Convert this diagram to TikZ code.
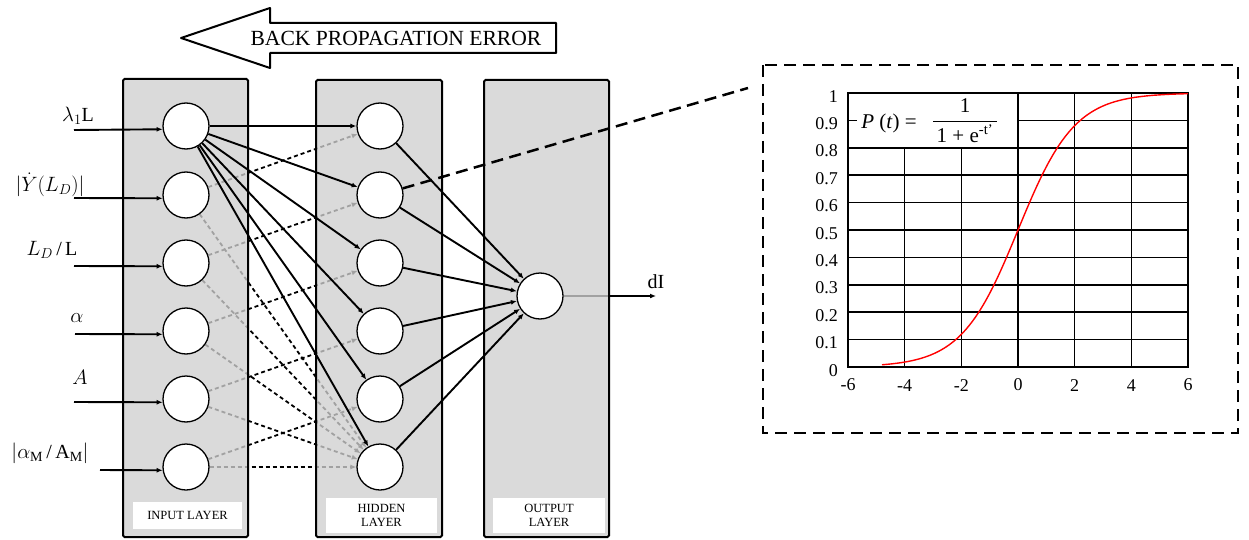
\documentclass[tikz,border=0pt]{standalone}
\usepackage{fontspec}
\usepackage{amsmath}
\setmainfont{Liberation Serif}
\usetikzlibrary{arrows.meta}
\pgfdeclarelayer{back}
\pgfdeclarelayer{mid}
\pgfsetlayers{back,mid,main}
\begin{document}
\begin{tikzpicture}[x=1pt,y=-1pt,
  neuron/.style={circle,draw,line width=1.3pt,fill=white,minimum size=46pt,inner sep=0pt},
  layerbox/.style={draw,line width=2pt,rounded corners=1.5pt,fill=black!19,fill opacity=0.78,draw opacity=1},
  tagbox/.style={fill=white,inner sep=0pt,align=center,font=\fontsize{12.5}{14}\selectfont},
  tipstyle/.style={-{Latex[length=6pt,width=5pt]}},
  solidc/.style={line width=1.9pt,tipstyle},
  dashc/.style={line width=1.8pt,dash pattern=on 4pt off 3pt,tipstyle},
  inlabel/.style={font=\fontsize{20}{24}\selectfont,inner sep=0pt},
  gridl/.style={line width=1.6pt},
  axlabel/.style={font=\fontsize{18}{22}\selectfont,inner sep=0pt},
  zoomline/.style={line width=2.5pt,dash pattern=on 12pt off 6.5pt}
]
\useasboundingbox (0,0) rectangle (1249,540);

% ---------- neurons ----------
\foreach \k/\yy in {1/126,2/195,3/263,4/331,5/399,6/467}{
  \node[neuron] (i\k) at (186,\yy) {};
  \node[neuron] (h\k) at (380,\yy) {};
}
\node[neuron] (o) at (540,296) {};

% ---------- layer boxes ----------
\begin{pgfonlayer}{mid}
  \node[layerbox,minimum width=125pt,minimum height=458pt] (inbox) at (185.5,308) {};
  \node[layerbox,minimum width=126pt,minimum height=457pt] (hidbox) at (379,308.5) {};
  \node[layerbox,minimum width=125pt,minimum height=457pt] (outbox) at (546.5,308.5) {};
  \node[tagbox,minimum width=109pt,minimum height=27pt] (tin) at (187.5,515.5) {INPUT LAYER};
  \node[tagbox,minimum width=111pt,minimum height=35pt] (thid) at (381.5,515.5) {HIDDEN\\LAYER};
  \node[tagbox,minimum width=112pt,minimum height=35pt] (tout) at (549,515.5) {OUTPUT\\LAYER};
\end{pgfonlayer}

% ---------- dashed connections (under the boxes) ----------
\coordinate (dIend) at (656,296);
\begin{pgfonlayer}{back}
  \foreach \k in {2,...,6}{
    \pgfmathtruncatemacro\m{\k-1}
    \draw[dashc] (i\k) -- (h\m);
    \draw[dashc] (i\k) -- (h6);
  }
  \draw[solidc] (o) -- (dIend);
\end{pgfonlayer}

% ---------- solid connections ----------
\foreach \k in {1,...,6}{
  \draw[solidc] (i1) -- (h\k);
  \draw[solidc] (h\k) -- (o);
}

% ---------- inputs ----------
\coordinate (s1) at (74,130);
\coordinate (s2) at (74,198);
\coordinate (s3) at (74,266);
\coordinate (s4) at (75,334);
\coordinate (s5) at (74,402);
\coordinate (s6) at (100,470);
\foreach \k in {1,...,6}{
  \draw[solidc] (s\k) -- (i\k.188);
}
\node[inlabel] (l1) at (78,116) {$\lambda_1$L};
\node[inlabel] (l2) at (50,185) {$\lvert\dot{Y}(L_D)\rvert$};
\node[inlabel] (l3) at (52,250) {$L_D$\,/\,L};
\node[inlabel] (l4) at (77,318) {$\alpha$};
\node[inlabel] (l5) at (80,377) {$A$};
\node[inlabel] (l6) at (50,453) {$\lvert\alpha_{\mathrm{M}}$\,/\,A$_{\mathrm{M}}\rvert$};

\node[inlabel] (dI) at (656,282) {dI};

% ---------- back propagation arrow ----------
\draw[line width=2pt,line join=round,fill=white]
  (556,23) -- (270,23) -- (270,8) -- (181,38) -- (270,68) -- (270,53) -- (556,53) -- cycle;
\node[font=\fontsize{21.6}{24}\selectfont,inner sep=0pt] (bp) at (396,38) {BACK PROPAGATION ERROR};

% ---------- zoom to sigmoid ----------
\coordinate (zc) at (748,88);
\draw[zoomline] (h2) -- (zc);
\draw[line width=2.5pt,dash pattern=on 12pt off 7pt] (763,65) rectangle (1238,433);

\begin{scope}[shift={(848,367)},x=28.333pt,y=274pt]
  \foreach \i in {1,...,8}{
    \draw[gridl] (0,{\i/10}) -- (12,{\i/10});
  }
  \draw[gridl] (6,0.9) -- (12,0.9);
  \draw[gridl] (0,0.9) -- (0.3,0.9);
  \foreach \t in {2,4}{
    \draw[gridl] (\t,0) -- (\t,0.8);
  }
  \foreach \t in {6,8,10}{
    \draw[gridl] (\t,0) -- (\t,1);
  }
  \draw[line width=2.6pt] (0,0) rectangle (12,1);
  \draw[red,line width=1.4pt] plot[domain=1.2:12,samples=120,smooth] (\x,{1/(1+exp(-(\x-6)))});
  \foreach \i/\lab in {0/0,1/0.1,2/0.2,3/0.3,4/0.4,5/0.5,6/0.6,7/0.7,8/0.8,9/0.9,10/1}{
    \node[axlabel,anchor=east] at (-0.35,{\i/10-0.012}) {\lab};
  }
  \foreach \t/\lab in {0/-6,2/-4,4/-2,6/0,8/2,10/4,12/6}{
    \node[axlabel] at (\t,-0.066) {\lab};
  }
\end{scope}

\node[font=\fontsize{21}{25}\selectfont,inner sep=0pt] (pt) at (889,123) {\textit{P} (\textit{t}) =};
\node[font=\fontsize{21}{25}\selectfont,inner sep=0pt] (frac) at (965,121) {$\dfrac{\text{1}}{\,\text{1 + e}^{\text{-t'}}\,}$};
\end{tikzpicture}
\end{document}
